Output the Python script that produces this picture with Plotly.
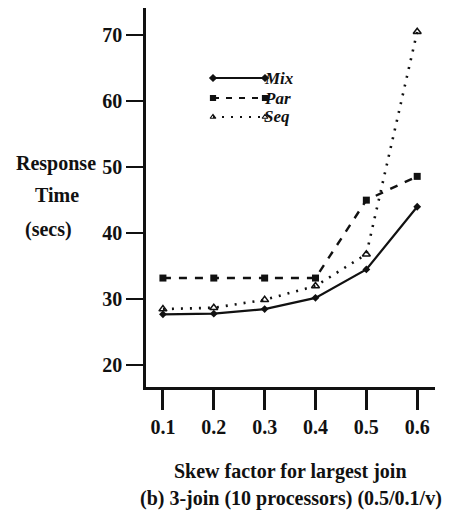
import plotly.graph_objects as go

# Skew factor of the largest join and measured response times (secs)
skew = [0.1, 0.2, 0.3, 0.4, 0.5, 0.6]
mix = [27.7, 27.8, 28.5, 30.2, 34.5, 44.0]
par = [33.2, 33.2, 33.2, 33.2, 45.0, 48.6]
seq = [28.5, 28.7, 29.9, 32.0, 36.8, 70.5]

x_ticks = [0.1, 0.2, 0.3, 0.4, 0.5, 0.6]
x_tick_text = ["0.1", "0.2", "0.3", "0.4", "0.5", "0.6"]
y_ticks = [20, 30, 40, 50, 60, 70]

FONT = "Liberation Serif, Tinos, Times New Roman, DejaVu Serif, serif"
INK = "#111111"
FS = 20

# pixel helpers for the plot box (l=146, t=8, w=289, h=379)
def px_x(p):
    return (p - 146) / 289

def px_y(p):
    return (387 - p) / 379

fig = go.Figure()

fig.add_trace(go.Scatter(
    x=skew, y=mix, mode="lines+markers", name="Mix",
    line=dict(color=INK, width=2.2, dash="solid"),
    marker=dict(symbol="diamond", size=6, color=INK),
))
fig.add_trace(go.Scatter(
    x=skew, y=par, mode="lines+markers", name="Par",
    line=dict(color=INK, width=2.4, dash="8px,8px"),
    marker=dict(symbol="square", size=7, color=INK),
))
fig.add_trace(go.Scatter(
    x=skew, y=seq, mode="lines+markers", name="Seq",
    line=dict(color=INK, width=2.6, dash="2px,7px"),
    marker=dict(symbol="triangle-up-open", size=7, color=INK, line=dict(width=1.5, color=INK)),
))

# Legend samples: a short line with a marker at each end, label to the right
legend_rows = [
    ("Mix", 78, "solid", "diamond"),
    ("Par", 98, "6px,7px", "square"),
    ("Seq", 117, "2px,7px", "triangle-up-open"),
]
for name, py, dash, sym in legend_rows:
    yy = px_y(py)
    fig.add_trace(go.Scatter(
        x=[px_x(213), px_x(265)], y=[yy, yy], xaxis="x2", yaxis="y2",
        mode="lines+markers", showlegend=False, hoverinfo="skip",
        line=dict(color=INK, width=2, dash=dash),
        marker=dict(symbol=sym, size=5, color=INK, line=dict(width=1.2, color=INK)),
    ))
    fig.add_annotation(
        x=px_x(265), y=yy, xref="paper", yref="paper", text=f"<b><i>{name}</i></b>",
        showarrow=False, xanchor="left", yanchor="middle", xshift=-2, borderpad=0,
        font=dict(family=FONT, size=17, color=INK),
    )

# Y-axis title written as three stacked lines left of the ticks
for text, cx, py in [("Response", 56, 163), ("Time", 57, 195), ("(secs)", 48, 229)]:
    fig.add_annotation(
        x=px_x(cx), y=px_y(py), xref="paper", yref="paper", text=f"<b>{text}</b>",
        showarrow=False, xanchor="center", yanchor="middle",
        font=dict(family=FONT, size=FS, color=INK),
    )

# X-axis caption lines
fig.add_annotation(
    x=px_x(290), y=px_y(471), xref="paper", yref="paper",
    text="<b>Skew factor for largest join</b>", showarrow=False,
    xanchor="center", yanchor="middle", font=dict(family=FONT, size=FS, color=INK),
)
fig.add_annotation(
    x=px_x(291), y=px_y(498), xref="paper", yref="paper",
    text="<b>(b) 3-join (10 processors) (0.5/0.1/v)</b>", showarrow=False,
    xanchor="center", yanchor="middle", font=dict(family=FONT, size=20, color=INK),
)

fig.update_layout(
    width=450, height=514,
    margin=dict(l=146, r=15, t=8, b=127),
    paper_bgcolor="white", plot_bgcolor="white",
    showlegend=False,
    font=dict(family=FONT, size=FS, color=INK),
    xaxis=dict(
        range=[0.0667, 0.635], tickvals=x_ticks, ticktext=[f"<b>{t}</b>" for t in x_tick_text],
        showgrid=False, zeroline=False, showline=True, linecolor=INK, linewidth=2.5,
        ticks="outside", ticklen=20, tickwidth=2.5, tickcolor=INK,
        tickfont=dict(family=FONT, size=FS, color=INK),
    ),
    yaxis=dict(
        range=[16.7, 74.1], tickvals=y_ticks, ticktext=[f"<b>{v}</b>" for v in y_ticks],
        showgrid=False, zeroline=False, showline=True, linecolor=INK, linewidth=2.5,
        ticks="outside", ticklen=17, tickwidth=2, tickcolor=INK,
        tickfont=dict(family=FONT, size=FS, color=INK),
    ),
    xaxis2=dict(range=[0, 1], overlaying="x", visible=False),
    yaxis2=dict(range=[0, 1], overlaying="y", visible=False),
)

fig.write_html("out.html")
